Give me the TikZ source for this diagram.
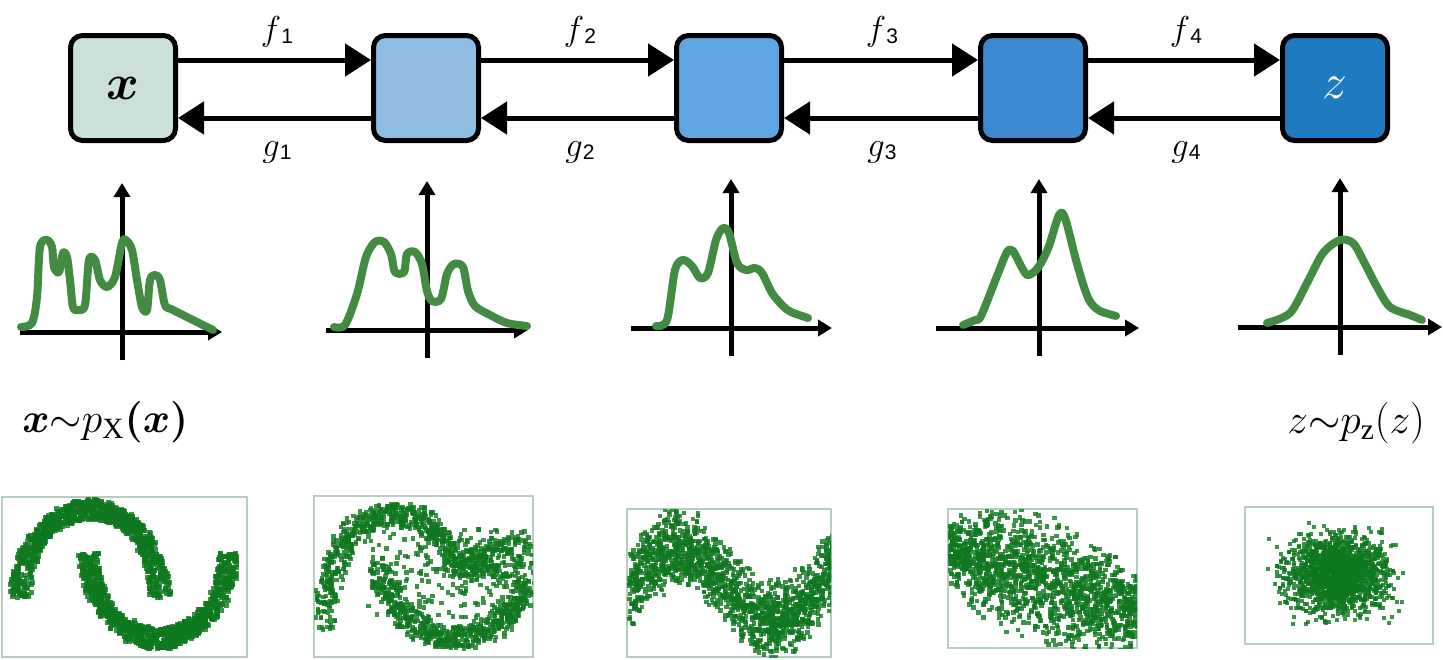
\documentclass[tikz,border=0pt]{standalone}
\usepackage{bm}
\usepackage{fontspec}
\setmainfont{Liberation Serif}
\newfontfamily\subsans{Liberation Sans}
\usetikzlibrary{arrows.meta}
\definecolor{boxa}{HTML}{CCE0DA}
\definecolor{boxb}{HTML}{8FBDE2}
\definecolor{boxc}{HTML}{5FA7E2}
\definecolor{boxd}{HTML}{3B8AD0}
\definecolor{boxe}{HTML}{1F7BC0}
\definecolor{densgreen}{HTML}{438A43}
\definecolor{dotgreen}{HTML}{0E781E}
\definecolor{framegreen}{HTML}{B4CFBE}
\newcommand{\maplbl}[2]{{\fontsize{18}{20}\selectfont$#1$\raisebox{-1.5pt}{\subsans\fontsize{10.5}{11}\selectfont #2}}}

\begin{document}
\begin{tikzpicture}[x=0.5pt,y=-0.5pt,
    blk/.style={draw,line width=2.5pt,rounded corners=6pt,minimum width=52.5pt,
      minimum height=52.5pt,inner sep=0pt,font=\fontsize{24}{26}\selectfont},
    fw/.style={line width=2.5pt,-{Triangle[length=13pt,width=16pt]}},
    ax/.style={line width=2.5pt,-{Triangle[length=7pt,width=8pt]}},
    dens/.style={densgreen,line width=4pt,line cap=round,line join=round},
    dot/.style={fill=dotgreen,fill opacity=0.8},
    frm/.style={framegreen,line width=0.8pt}]
  \useasboundingbox (0,0) rectangle (1443,659);
  % flow blocks
  \node[blk,fill=boxa] (b1) at (123,88) {$\bm{x}$};
  \node[blk,fill=boxb] (b2) at (426,88) {};
  \node[blk,fill=boxc] (b3) at (729,88) {};
  \node[blk,fill=boxd] (b4) at (1033,88) {};
  \node[blk,fill=boxe,text=white] (b5) at (1335,88) {$z$};
  \draw[fw] ([yshift=14pt]b1.east) -- ([yshift=14pt]b2.west);
  \draw[fw] ([yshift=14pt]b2.east) -- ([yshift=14pt]b3.west);
  \draw[fw] ([yshift=14pt]b3.east) -- ([yshift=14pt]b4.west);
  \draw[fw] ([yshift=14pt]b4.east) -- ([yshift=14pt]b5.west);
  \draw[fw] ([yshift=-15pt]b2.west) -- ([yshift=-15pt]b1.east);
  \draw[fw] ([yshift=-15pt]b3.west) -- ([yshift=-15pt]b2.east);
  \draw[fw] ([yshift=-15pt]b4.west) -- ([yshift=-15pt]b3.east);
  \draw[fw] ([yshift=-15pt]b5.west) -- ([yshift=-15pt]b4.east);
  \node (f1) at (277,32) {\maplbl{f}{1}};
  \node (f2) at (580,32) {\maplbl{f}{2}};
  \node (f3) at (882,32) {\maplbl{f}{3}};
  \node (f4) at (1186,32) {\maplbl{f}{4}};
  \node (g1) at (277,152) {\maplbl{g}{1}};
  \node (g2) at (580,152) {\maplbl{g}{2}};
  \node (g3) at (882,152) {\maplbl{g}{3}};
  \node (g4) at (1186,152) {\maplbl{g}{4}};
  % densities
  \begin{scope}[shift={(122,332)},yscale=-1]
    \draw[ax] (0,-28) -- (0,149);
    \draw[ax] (-102,0) -- (100,0);
    \draw[dens] plot[smooth,tension=0.5] coordinates {(-101,5) (-90,9) (-85,35) (-82,85)
      (-75,92) (-70,85) (-68,65) (-63,60) (-59,79) (-55,75) (-52,52) (-49,25) (-44,22)
      (-37,27) (-33,72) (-27,72) (-22,52) (-15,45) (-7,55) (0,89) (4,92) (10,82) (15,52)
      (20,25) (25,22) (28,52) (33,57) (38,52) (43,27) (51,22) (91,2)};
  \end{scope}
  \begin{scope}[shift={(427,330)},yscale=-1]
    \draw[ax] (0,-28) -- (0,149);
    \draw[ax] (-101,0) -- (101,0);
    \draw[dens] plot[smooth,tension=0.5] coordinates {(-93,3) (-82,5) (-70,36) (-61,73)
      (-52,88) (-43,88) (-36,76) (-32,58) (-23,58) (-20,76) (-12,78) (-5,66) (0,39) (5,29)
      (14,31) (20,56) (27,66) (36,63) (41,39) (48,24) (63,15) (80,7) (100,4)};
  \end{scope}
  \begin{scope}[shift={(731,328)},yscale=-1]
    \draw[ax] (0,-28) -- (0,149);
    \draw[ax] (-100,0) -- (101,0);
    \draw[dens] plot[smooth,tension=0.5] coordinates {(-75,2) (-64,8) (-56,58) (-48,68)
      (-39,62) (-31,50) (-23,55) (-15,88) (-8,100) (-2,95) (6,65) (15,58) (24,60) (31,55)
      (41,35) (52,22) (60,16) (77,10)};
  \end{scope}
  \begin{scope}[shift={(1039,328)},yscale=-1]
    \draw[ax] (0,-28) -- (0,149);
    \draw[ax] (-103,0) -- (100,0);
    \draw[dens] plot[smooth,tension=0.5] coordinates {(-76,3) (-64,8) (-58,12) (-42,52)
      (-32,76) (-26,77) (-18,62) (-12,53) (-5,56) (2,65) (10,82) (20,113) (26,110) (37,68)
      (46,38) (52,25) (61,17) (77,12)};
  \end{scope}
  \begin{scope}[shift={(1340,327)},yscale=-1]
    \draw[ax] (0,-28) -- (0,149);
    \draw[ax] (-102,0) -- (102,0);
    \draw[dens] plot[smooth,tension=0.5] coordinates {(-73,4) (-50,14) (-33,44) (-17,74)
      (0,87) (13,84) (23,67) (37,40) (50,20) (70,12) (82,7)};
  \end{scope}
  % distributions
  \node[anchor=base west,inner sep=0pt] (px) at (22,432) {\fontsize{21}{24}\selectfont
    $\bm{x}{\sim}p_{\mathrm{X}}\bm{(}\bm{x}\bm{)}$};
  \node[anchor=base west,inner sep=0pt] (pz) at (1287,433) {\fontsize{21}{24}\selectfont
    $z{\sim}p_{\mathrm{z}}(z)$};
  % samples
  \pgfmathsetseed{7}
  \draw[frm] (2,497) rectangle (247,657);
  \draw[frm] (314,496) rectangle (533,657);
  \draw[frm] (627,509) rectangle (831,657);
  \draw[frm] (948,509) rectangle (1137,648);
  \draw[frm] (1245,507) rectangle (1433,644);
  \begin{scope}
    \clip (2,497) rectangle (247,657);
    \foreach \i in {1,...,950}{
      \pgfmathsetmacro\ta{180*rnd}
      \pgfmathsetmacro\ra{70+11*rand}
      \pgfmathsetmacro\rb{88+11*rand}
      \fill[dot] ({88-\ra*cos(\ta)},{595-\rb*sin(\ta)}) rectangle ++(5,5);
      \pgfmathsetmacro\ta{180*rnd}
      \pgfmathsetmacro\ra{70+11*rand}
      \pgfmathsetmacro\rb{85+11*rand}
      \fill[dot] ({156-\ra*cos(\ta)},{551+\rb*sin(\ta)}) rectangle ++(5,5);
    }
  \end{scope}
  \begin{scope}
    \clip (314,496) rectangle (533,657);
    \foreach \i in {1,...,550}{
      \pgfmathsetmacro\t{rnd}
      \pgfmathsetmacro\u{1-\t}
      \pgfmathsetmacro\px{\u^3*322+3*\u^2*\t*322+3*\u*\t^2*430+\t^3*455+11*rand}
      \pgfmathsetmacro\py{\u^3*628+3*\u^2*\t*485+3*\u*\t^2*485+\t^3*568+11*rand}
      \fill[dot] (\px,\py) rectangle ++(4.5,4.5);
      \pgfmathsetmacro\t{rnd}
      \pgfmathsetmacro\u{1-\t}
      \pgfmathsetmacro\px{\u^3*378+3*\u^2*\t*395+3*\u*\t^2*490+\t^3*525+11*rand}
      \pgfmathsetmacro\py{\u^3*565+3*\u^2*\t*650+3*\u*\t^2*660+\t^3*585+11*rand}
      \fill[dot] (\px,\py) rectangle ++(4.5,4.5);
    }
    \foreach \i in {1,...,260}{
      \pgfmathsetmacro\t{rnd}
      \pgfmathsetmacro\u{1-\t}
      \pgfmathsetmacro\px{\u^3*455+3*\u^2*\t*475+3*\u*\t^2*505+\t^3*522+(6+10*\t)*rand}
      \pgfmathsetmacro\py{\u^3*568+3*\u^2*\t*560+3*\u*\t^2*545+\t^3*570+(8+22*\t)*rand}
      \fill[dot] (\px,\py) rectangle ++(4.5,4.5);
    }
    \foreach \i in {1,...,230}{
      \fill[dot] ({445+80*rand},{572+45*rand}) rectangle ++(4.5,4.5);
    }
  \end{scope}
  \begin{scope}
    \clip (627,509) rectangle (831,657);
    \foreach \i in {1,...,1500}{
      \pgfmathsetmacro\px{627+204*rnd}
      \pgfmathsetmacro\py{582-36*sin(1.935*(\px-631.5))+22*(rand+rand)}
      \fill[dot] (\px,\py) rectangle ++(4.5,4.5);
    }
  \end{scope}
  \begin{scope}
    \clip (948,509) rectangle (1137,648);
    \foreach \i in {1,...,1450}{
      \pgfmathsetmacro\s{rnd}
      \pgfmathsetmacro\py{548+62*\s+(32+28*sin(180*\s))*(rand+rand)*0.6}
      \fill[dot] ({946+189*\s},\py) rectangle ++(4.5,4.5);
    }
  \end{scope}
  \begin{scope}
    \clip (1245,507) rectangle (1433,644);
    \foreach \i in {1,...,1600}{
      \fill[dot] ({1335+24*(rand+rand+rand)},{572+19*(rand+rand+rand)}) rectangle ++(4,4);
    }
  \end{scope}
\end{tikzpicture}
\end{document}
